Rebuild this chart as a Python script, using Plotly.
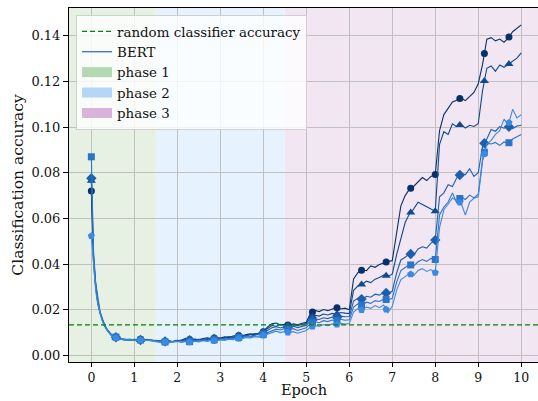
import numpy as np
import plotly.graph_objects as go

# ---------------- data ----------------
epochs = [0.0, 0.05, 0.1, 0.15, 0.2, 0.25, 0.3, 0.35, 0.4, 0.45, 0.5] + [round(0.1 * i, 1) for i in range(6, 101)]

bert_1 = [0.0720, 0.0410, 0.0300, 0.0230, 0.0185, 0.0155, 0.0132, 0.0115, 0.0102, 0.0091, 0.0083,
          0.0075, 0.0071, 0.0068, 0.0070, 0.0067, 0.0069, 0.0072, 0.0068, 0.0066, 0.0064,
          0.0062, 0.0060, 0.0063, 0.0061, 0.0064, 0.0067, 0.0075, 0.0069, 0.0072, 0.0068,
          0.0074, 0.0077, 0.0073, 0.0079, 0.0076, 0.0081, 0.0078, 0.0085, 0.0088, 0.0084,
          0.0091, 0.0094, 0.0090, 0.0098, 0.0104, 0.0125, 0.0138, 0.0142, 0.0133, 0.0136,
          0.0132, 0.0138, 0.0134, 0.0141, 0.0145, 0.0185, 0.0197, 0.0192, 0.0201, 0.0196,
          0.0204, 0.0209, 0.0203, 0.0207, 0.0200, 0.0335, 0.0362, 0.0375, 0.0371, 0.0392,
          0.0386, 0.0398, 0.0405, 0.0412, 0.0415, 0.0530, 0.0655, 0.0700, 0.0728, 0.0741,
          0.0758, 0.0779, 0.0766, 0.0784, 0.0792, 0.0985, 0.1055, 0.1082, 0.1110, 0.1118,
          0.1128, 0.1116, 0.1135, 0.1152, 0.1190, 0.1275, 0.1385, 0.1392, 0.1378, 0.1386,
          0.1372, 0.1391, 0.1418, 0.1432, 0.1448]

bert_2 = [0.0765, 0.0430, 0.0310, 0.0235, 0.0190, 0.0158, 0.0134, 0.0117, 0.0103, 0.0092, 0.0084,
          0.0076, 0.0070, 0.0069, 0.0067, 0.0069, 0.0066, 0.0070, 0.0067, 0.0064, 0.0066,
          0.0061, 0.0063, 0.0059, 0.0062, 0.0066, 0.0063, 0.0070, 0.0066, 0.0068, 0.0071,
          0.0069, 0.0074, 0.0071, 0.0076, 0.0073, 0.0078, 0.0082, 0.0079, 0.0085, 0.0089,
          0.0086, 0.0092, 0.0096, 0.0093, 0.0101, 0.0118, 0.0131, 0.0128, 0.0136, 0.0131,
          0.0128, 0.0134, 0.0129, 0.0136, 0.0139, 0.0168, 0.0176, 0.0172, 0.0181, 0.0177,
          0.0184, 0.0180, 0.0188, 0.0185, 0.0183, 0.0285, 0.0304, 0.0312, 0.0325, 0.0319,
          0.0334, 0.0341, 0.0352, 0.0347, 0.0356, 0.0440, 0.0515, 0.0582, 0.0620, 0.0642,
          0.0671, 0.0660, 0.0652, 0.0641, 0.0632, 0.0925, 0.0980, 0.0968, 0.1015, 0.1002,
          0.1012, 0.0996, 0.1008, 0.1003, 0.1015, 0.1160, 0.1258, 0.1268, 0.1245, 0.1272,
          0.1262, 0.1275, 0.1286, 0.1302, 0.1325]

bert_3 = [0.0776, 0.0440, 0.0315, 0.0240, 0.0192, 0.0160, 0.0136, 0.0118, 0.0104, 0.0093, 0.0085,
          0.0077, 0.0072, 0.0070, 0.0068, 0.0071, 0.0068, 0.0067, 0.0070, 0.0066, 0.0063,
          0.0065, 0.0061, 0.0064, 0.0060, 0.0063, 0.0066, 0.0062, 0.0067, 0.0064, 0.0069,
          0.0066, 0.0071, 0.0069, 0.0074, 0.0071, 0.0076, 0.0074, 0.0080, 0.0083, 0.0080,
          0.0087, 0.0084, 0.0091, 0.0095, 0.0098, 0.0109, 0.0121, 0.0126, 0.0120, 0.0127,
          0.0122, 0.0128, 0.0121, 0.0127, 0.0131, 0.0152, 0.0160, 0.0157, 0.0165, 0.0161,
          0.0168, 0.0165, 0.0172, 0.0169, 0.0170, 0.0238, 0.0250, 0.0246, 0.0259, 0.0255,
          0.0268, 0.0264, 0.0276, 0.0272, 0.0281, 0.0360, 0.0418, 0.0430, 0.0446, 0.0439,
          0.0466, 0.0476, 0.0470, 0.0492, 0.0505, 0.0695, 0.0712, 0.0748, 0.0740, 0.0778,
          0.0795, 0.0792, 0.0818, 0.0784, 0.0800, 0.0915, 0.0948, 0.0990, 0.0982, 0.1002,
          0.0995, 0.1003, 0.0994, 0.1005, 0.1008]

bert_4 = [0.0870, 0.0460, 0.0320, 0.0245, 0.0195, 0.0162, 0.0137, 0.0119, 0.0105, 0.0094, 0.0086,
          0.0078, 0.0073, 0.0069, 0.0071, 0.0068, 0.0066, 0.0069, 0.0065, 0.0067, 0.0064,
          0.0060, 0.0058, 0.0062, 0.0059, 0.0061, 0.0058, 0.0063, 0.0060, 0.0065, 0.0062,
          0.0068, 0.0065, 0.0070, 0.0067, 0.0072, 0.0070, 0.0075, 0.0073, 0.0079, 0.0077,
          0.0082, 0.0080, 0.0086, 0.0084, 0.0092, 0.0099, 0.0108, 0.0115, 0.0111, 0.0118,
          0.0112, 0.0117, 0.0109, 0.0116, 0.0121, 0.0140, 0.0147, 0.0143, 0.0152, 0.0148,
          0.0155, 0.0151, 0.0158, 0.0154, 0.0156, 0.0212, 0.0226, 0.0220, 0.0233, 0.0228,
          0.0240, 0.0236, 0.0247, 0.0243, 0.0250, 0.0320, 0.0372, 0.0385, 0.0398, 0.0392,
          0.0410, 0.0420, 0.0412, 0.0425, 0.0420, 0.0615, 0.0650, 0.0672, 0.0712, 0.0668,
          0.0695, 0.0683, 0.0702, 0.0690, 0.0706, 0.0860, 0.0930, 0.0926, 0.0933, 0.0920,
          0.0935, 0.0929, 0.0948, 0.0958, 0.0968]

bert_5 = [0.0523, 0.0380, 0.0285, 0.0222, 0.0182, 0.0153, 0.0131, 0.0114, 0.0101, 0.0090, 0.0082,
          0.0074, 0.0070, 0.0066, 0.0069, 0.0065, 0.0068, 0.0064, 0.0067, 0.0063, 0.0061,
          0.0057, 0.0060, 0.0056, 0.0059, 0.0062, 0.0058, 0.0061, 0.0057, 0.0062, 0.0059,
          0.0064, 0.0061, 0.0066, 0.0063, 0.0068, 0.0065, 0.0071, 0.0069, 0.0075, 0.0072,
          0.0078, 0.0076, 0.0082, 0.0080, 0.0087, 0.0093, 0.0101, 0.0106, 0.0100, 0.0105,
          0.0099, 0.0104, 0.0097, 0.0103, 0.0109, 0.0124, 0.0131, 0.0127, 0.0135, 0.0130,
          0.0138, 0.0134, 0.0141, 0.0137, 0.0140, 0.0190, 0.0205, 0.0198, 0.0212, 0.0206,
          0.0218, 0.0209, 0.0221, 0.0187, 0.0215, 0.0285, 0.0332, 0.0345, 0.0358, 0.0350,
          0.0372, 0.0380, 0.0368, 0.0376, 0.0362, 0.0560, 0.0638, 0.0662, 0.0690, 0.0675,
          0.0668, 0.0615, 0.0672, 0.0688, 0.0695, 0.0850, 0.0925, 0.0942, 0.0968, 0.0985,
          0.1035, 0.1010, 0.1078, 0.1040, 0.1055]

series = [bert_1, bert_2, bert_3, bert_4, bert_5]
for s in series:
    assert len(s) == len(epochs), (len(s), len(epochs))

random_accuracy = 1 / 75
phase_names = ["phase 1", "phase 2", "phase 3"]
phase_bounds = [1.5, 4.5]
xticks = list(range(0, 11))
yticks = [0.00, 0.02, 0.04, 0.06, 0.08, 0.10, 0.12, 0.14]
x_title = "Epoch"
y_title = "Classification accuracy"

# ---------------- style ----------------
XMIN, XMAX = -0.52, 10.39
YMIN, YMAX = -0.0029, 0.1522
line_colors = ["#08306b", "#0d4a8f", "#1c5fae", "#2a74c9", "#3b8ae2"]
marker_symbols = ["circle", "triangle-up", "diamond", "square", "pentagon"]
marker_sizes = [7, 8, 8, 7, 7.5]
marker_every = 4 / 7
phase_bg = ["#e6f0e3", "#e6f2fd", "#f2e6f2"]
phase_patch = ["#b3d9b3", "#b5d6f6", "#d9b3d9"]
FONT = "DejaVu Serif"

fig = go.Figure()

# background spans
edges = [XMIN] + phase_bounds + [XMAX]
for i in range(3):
    fig.add_shape(type="rect", xref="x", yref="paper", x0=edges[i], x1=edges[i + 1], y0=0, y1=1,
                  fillcolor=phase_bg[i], line=dict(width=0), layer="below")

# BERT runs
marker_x = [k * marker_every for k in range(int(10 / marker_every) + 1)]
for s, c, sym, ms in zip(series, line_colors, marker_symbols, marker_sizes):
    fig.add_trace(go.Scatter(x=epochs, y=s, mode="lines", line=dict(color=c, width=1.1),
                             showlegend=False, hoverinfo="skip"))
    fig.add_trace(go.Scatter(x=marker_x, y=np.interp(marker_x, epochs, s), mode="markers",
                             marker=dict(symbol=sym, size=ms, color=c, line=dict(width=0)),
                             showlegend=False, hoverinfo="skip"))

# random classifier line
fig.add_trace(go.Scatter(x=[XMIN, XMAX], y=[random_accuracy, random_accuracy], mode="lines",
                         line=dict(color="#008000", width=1.3, dash="5px,3px"),
                         name="random classifier accuracy", legendrank=1))
# legend-only entries
fig.add_trace(go.Scatter(x=[None], y=[None], mode="lines", line=dict(color="#3a6fb6", width=1.3),
                         name="BERT", legendrank=2))
for i in range(3):
    fig.add_trace(go.Scatter(x=[None], y=[None], mode="lines",
                             line=dict(width=10, color=phase_patch[i]),
                             name=phase_names[i], legendrank=3 + i))

axis_common = dict(showgrid=True, gridcolor="#c0c0c0", gridwidth=1, zeroline=False,
                   showline=True, linecolor="black", linewidth=1, automargin=False,
                   ticks="outside", tickwidth=1, tickcolor="black")

fig.update_layout(
    width=538, height=401,
    margin=dict(l=69, r=0, t=8, b=39, autoexpand=False),
    paper_bgcolor="white", plot_bgcolor="white",
    font=dict(family=FONT, color="#111"),
    xaxis=dict(range=[XMIN, XMAX], tickvals=xticks, mirror=True, ticklen=4,
               tickfont=dict(family=FONT, size=12.5, color="#111"), **axis_common),
    yaxis=dict(range=[YMIN, YMAX], tickvals=yticks, tickformat=".2f", ticklen=5,
               tickfont=dict(family=FONT, size=13, color="#111"),
               title=dict(text=y_title, font=dict(family=FONT, size=15.5, color="#111"), standoff=4),
               **axis_common),
    legend=dict(x=0.015, y=0.98, xanchor="left", yanchor="top",
                bgcolor="rgba(255,255,255,0.8)", bordercolor="#d0d0d0", borderwidth=1,
                font=dict(family=FONT, size=13.4, color="#111"), tracegroupgap=0),
)
fig.add_annotation(text=x_title, xref="paper", yref="paper", x=0.5, y=-0.107,
                   xanchor="center", yanchor="bottom", showarrow=False,
                   font=dict(family=FONT, size=14.5, color="#111"))

fig.write_html("out.html", config={"displayModeBar": False},
               post_script="document.body.style.margin='0';document.body.style.overflow='hidden';")
